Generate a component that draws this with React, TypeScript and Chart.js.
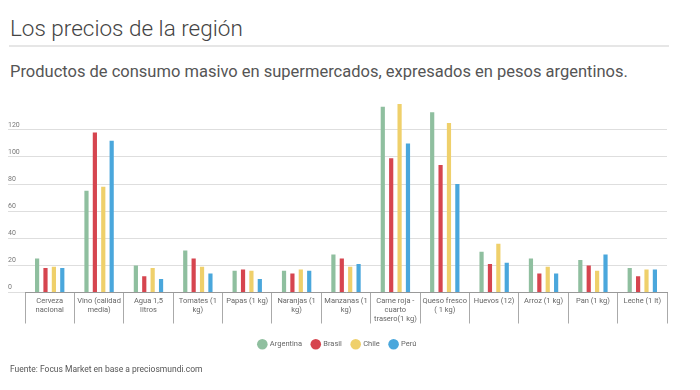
import React, { useEffect, useRef } from "react";
import { Chart, registerables } from "chart.js";

Chart.register(...registerables);

const categories: (string | string[])[] = [
  ["Cerveza", "nacional"],
  ["Vino (calidad", "media)"],
  ["Agua 1,5", "litros"],
  ["Tomates (1", "kg)"],
  "Papas (1 kg)",
  ["Naranjas (1", "kg)"],
  ["Manzanas (1", "kg)"],
  ["Carne roja -", "cuarto", "trasero(1 kg)"],
  ["Queso fresco", "( 1 kg)"],
  "Huevos (12)",
  "Arroz (1 kg)",
  "Pan (1 kg)",
  "Leche (1 lt)",
];

const argentina = [25, 75, 20, 31, 16, 16, 28, 137, 133, 30, 25, 24, 18];
const brasil = [18, 118, 12, 25, 17, 14, 25, 99, 94, 21, 14, 20, 12];
const chile = [19, 78, 18, 19, 16, 17, 19, 139, 125, 36, 19, 16, 17];
const peru = [18, 112, 10, 14, 10, 16, 21, 110, 80, 22, 14, 28, 17];

const seriesNames = ["Argentina", "Brasil", "Chile", "Perú"];
const seriesColors = ["#8fbf9f", "#d6454f", "#efd06b", "#4aa7dc"];

const FONT = "Roboto, 'Open Sans', sans-serif";

export default function App() {
  const ref = useRef<HTMLCanvasElement | null>(null);

  useEffect(() => {
    if (!ref.current) return;
    const chart = new Chart(ref.current, {
      type: "bar",
      data: {
        labels: categories,
        datasets: [argentina, brasil, chile, peru].map((d, i) => ({
          label: seriesNames[i],
          data: d,
          backgroundColor: seriesColors[i],
          borderWidth: 0,
          categoryPercentage: 0.68,
          barPercentage: 0.5,
        })),
      },
      options: {
        animation: false,
        responsive: false,
        maintainAspectRatio: false,
        layout: { padding: { left: 8, right: 33, top: 100, bottom: 32 } },
        plugins: {
          tooltip: { enabled: false },
          legend: {
            position: "bottom",
            labels: {
              usePointStyle: true,
              pointStyle: "circle",
              boxWidth: 8,
              boxHeight: 8,
              padding: 10,
              color: "#666",
              font: { family: FONT, size: 7.5 },
            },
          },
        },
        scales: {
          x: {
            grid: {
              offset: true,
              drawOnChartArea: false,
              tickLength: 31,
              color: "#aaa",
            },
            border: { display: true, color: "#999" },
            ticks: {
              padding: -27,
              color: "#666",
              font: { family: FONT, size: 7.5 },
              maxRotation: 0,
              autoSkip: false,
            },
            afterFit: (s: any) => {
              s.height = 38;
            },
          },
          y: {
            min: 0,
            max: 142,
            afterBuildTicks: (s: any) => {
              s.ticks = [0, 20, 40, 60, 80, 100, 120].map((v) => ({ value: v }));
            },
            afterFit: (s: any) => {
              s.width = 17;
            },
            grid: { color: "#dedede", tickLength: 17, tickColor: "#dedede" },
            border: { display: false },
            ticks: {
              crossAlign: "far",
              labelOffset: -5,
              padding: 0,
              color: "#777",
              font: { family: FONT, size: 7 },
            },
          },
        },
      },
    });
    return () => chart.destroy();
  }, []);

  return (
    <div
      style={{
        position: "fixed",
        left: 0,
        top: 0,
        width: 700,
        height: 390,
        background: "#fff",
        fontFamily: FONT,
      }}
    >
      <div
        style={{
          position: "absolute",
          left: 10,
          top: 15,
          fontSize: 22.5,
          fontWeight: 300,
          color: "#444",
          whiteSpace: "nowrap",
        }}
      >
        Los precios de la región
      </div>
      <div
        style={{
          position: "absolute",
          left: 9,
          top: 45,
          width: 660,
          height: 2,
          background: "#e6e6e6",
        }}
      />
      <div
        style={{
          position: "absolute",
          left: 10,
          top: 62,
          fontSize: 16.5,
          fontWeight: 400,
          color: "#555",
          whiteSpace: "nowrap",
        }}
      >
        Productos de consumo masivo en supermercados, expresados en pesos argentinos.
      </div>
      <canvas
        ref={ref}
        width={700}
        height={390}
        style={{ position: "absolute", left: 0, top: 0, width: 700, height: 390 }}
      />
      <div
        style={{
          position: "absolute",
          left: 10,
          top: 364,
          fontSize: 8.5,
          color: "#555",
          whiteSpace: "nowrap",
        }}
      >
        Fuente: Focus Market en base a preciosmundi.com
      </div>
    </div>
  );
}
